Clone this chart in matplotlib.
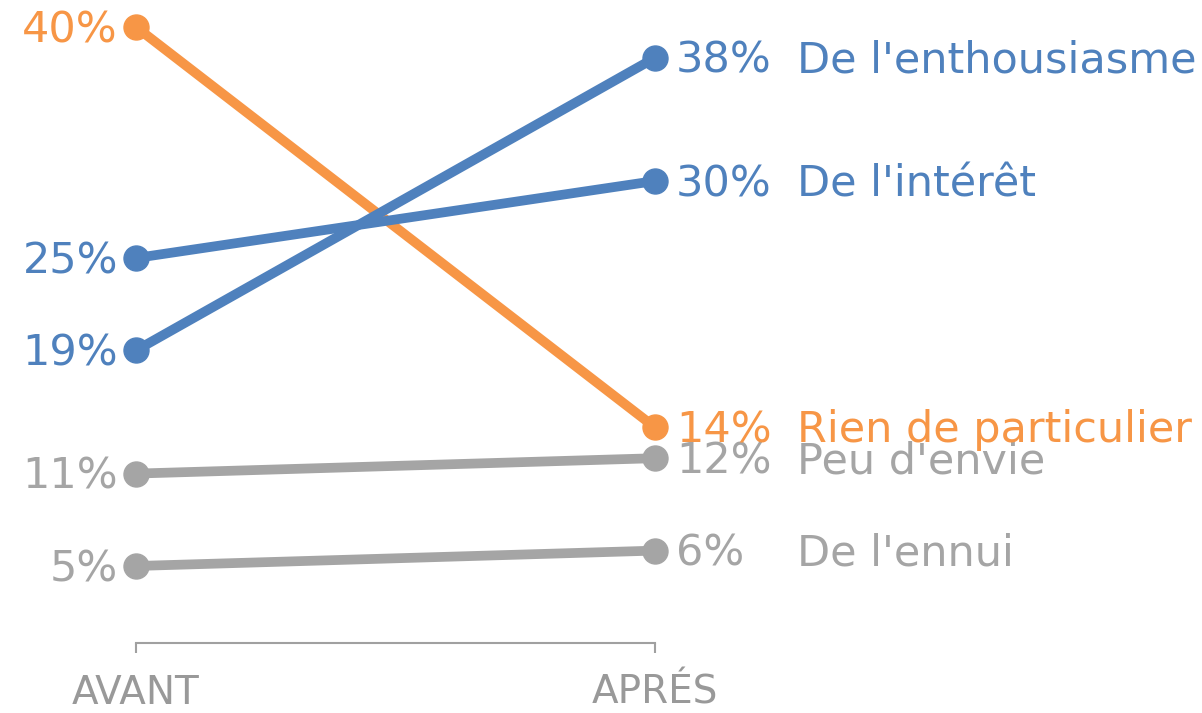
import matplotlib
matplotlib.use("Agg")
import matplotlib.pyplot as plt

periods = ["AVANT", "APRÉS"]
categories = ["Peu d'envie", "De l'ennui", "Rien de particulier", "De l'intérêt", "De l'enthousiasme"]
avant = [11, 5, 40, 25, 19]
apres = [12, 6, 14, 30, 38]
colors = ["#A5A5A5", "#A5A5A5", "#F79646", "#4F81BD", "#4F81BD"]

W, H = 1202, 713
fig = plt.figure(figsize=(W / 100, H / 100), dpi=100)
ax = fig.add_axes([136 / W, 1 - 643 / H, (655 - 136) / W, (643 - 27) / H])
ax.set_xlim(0, 1)
ax.set_ylim(0, 40)

fs = 31
dy = -2.2
for cat, a, b, c in zip(categories, avant, apres, colors):
    ax.plot([0, 1], [a, b], color=c, lw=7, marker="o", ms=18,
            solid_capstyle="round", clip_on=False)
    ax.annotate(f"{a}%", xy=(0, a), xytext=(-13, dy), textcoords="offset points",
                ha="right", va="center", fontsize=fs, color=c)
    ax.annotate(f"{b}%", xy=(1, b), xytext=(15, dy), textcoords="offset points",
                ha="left", va="center", fontsize=fs, color=c)
    ax.annotate(cat, xy=(1, b), xytext=(102, dy), textcoords="offset points",
                ha="left", va="center", fontsize=fs, color=c)

for s in ["top", "right", "left"]:
    ax.spines[s].set_visible(False)
ax.spines["bottom"].set_color("#A0A0A0")
ax.spines["bottom"].set_linewidth(1.5)
ax.spines["bottom"].set_bounds(0, 1)
ax.set_yticks([])
ax.set_xticks([0, 1])
ax.set_xticklabels(periods)
ax.tick_params(axis="x", length=7, width=1.5, color="#A0A0A0", labelsize=28,
               labelcolor="#999999", pad=15)
ax.patch.set_visible(False)

fig.savefig("out.png", dpi=100)
